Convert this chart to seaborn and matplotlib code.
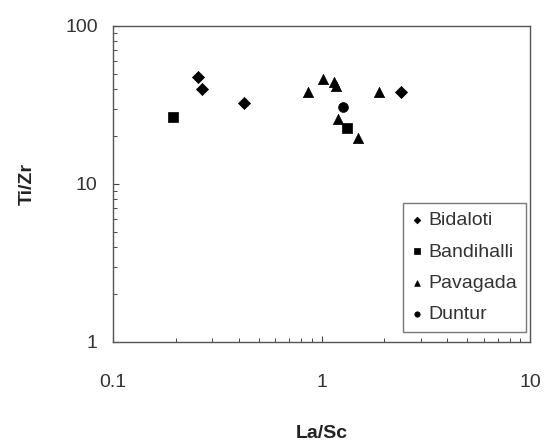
import numpy as np
import pandas as pd
import matplotlib
matplotlib.use("Agg")
import matplotlib.pyplot as plt
import seaborn as sns
from matplotlib.ticker import LogLocator, FixedLocator, FixedFormatter, NullFormatter

sns.set_style("white")
plt.rcParams['font.family'] = ['Liberation Sans', 'DejaVu Sans']

groups = ["Bidaloti", "Bandihalli", "Pavagada", "Duntur"]
bidaloti_x = [0.255, 0.266, 0.426, 2.40]
bidaloti_y = [47.3, 39.9, 32.4, 38.4]
bandihalli_x = [0.193, 1.32]
bandihalli_y = [26.7, 22.6]
pavagada_x = [0.861, 1.02, 1.148, 1.17, 1.196, 1.49, 1.88]
pavagada_y = [38.4, 46.2, 44.4, 41.7, 25.8, 19.6, 38.0]
duntur_x = [1.264]
duntur_y = [30.7]

x_ticks = [0.1, 1, 10]
x_ticklabels = ["0.1", "1", "10"]
y_ticks = [1, 10, 100]
y_ticklabels = ["1", "10", "100"]

rows = []
for g, xs, ys in [("Bidaloti", bidaloti_x, bidaloti_y),
                  ("Bandihalli", bandihalli_x, bandihalli_y),
                  ("Pavagada", pavagada_x, pavagada_y),
                  ("Duntur", duntur_x, duntur_y)]:
    for x, y in zip(xs, ys):
        rows.append({"La/Sc": x, "Ti/Zr": y, "Group": g})
df = pd.DataFrame(rows)

fig = plt.figure(figsize=(5.44, 4.42), dpi=100)
ax = fig.add_axes([113/544, 1-342/442, 417/544, 316/442])

markers = {"Bidaloti": "D", "Bandihalli": "s", "Pavagada": "^", "Duntur": "o"}
sizes_map = {"Bidaloti": 38, "Bandihalli": 55, "Pavagada": 55, "Duntur": 50}
for g in groups:
    sub = df[df["Group"] == g]
    sns.scatterplot(data=sub, x="La/Sc", y="Ti/Zr", marker=markers[g], color="black",
                    s=sizes_map[g], edgecolor="black", linewidth=0.5, ax=ax, label=g)

ax.set_xscale("log")
ax.set_yscale("log")
ax.set_xlim(0.1, 10)
ax.set_ylim(1, 100)

ax.xaxis.set_major_locator(FixedLocator(x_ticks))
ax.xaxis.set_major_formatter(FixedFormatter(x_ticklabels))
ax.yaxis.set_major_locator(FixedLocator(y_ticks))
ax.yaxis.set_major_formatter(FixedFormatter(y_ticklabels))
ax.xaxis.set_minor_locator(LogLocator(base=10, subs=np.arange(2, 10)))
ax.yaxis.set_minor_locator(LogLocator(base=10, subs=np.arange(2, 10)))
ax.xaxis.set_minor_formatter(NullFormatter())
ax.yaxis.set_minor_formatter(NullFormatter())

ax.tick_params(axis="both", which="both", direction="in", color="#444444",
               labelcolor="#333333", labelsize=14, bottom=True, left=True,
               top=False, right=False)
ax.tick_params(axis="both", which="major", length=4, width=0.8)
ax.tick_params(axis="both", which="minor", length=3, width=0.7)
ax.tick_params(axis="x", which="major", pad=23)
ax.tick_params(axis="y", which="major", pad=11)

for sp in ax.spines.values():
    sp.set_visible(True)
    sp.set_color("#555555")
    sp.set_linewidth(1.0)

ax.set_xlabel("La/Sc", fontsize=14, fontweight="bold", color="#222222")
ax.set_ylabel("Ti/Zr", fontsize=14, fontweight="bold", color="#222222")
ax.xaxis.set_label_coords(0.5, (342-433)/316)
ax.xaxis.label.set_va("center")
ax.yaxis.set_label_coords((27-113)/417, 0.5)
ax.yaxis.label.set_va("center")

leg = ax.legend(loc="upper left", bbox_to_anchor=((403-113)/417, (342-203)/316),
                frameon=True, fancybox=False, fontsize=14, markerscale=0.55,
                handletextpad=0.29, handlelength=0.55, labelspacing=0.7,
                borderpad=0.45, borderaxespad=0)
leg.get_frame().set_edgecolor("#555555")
leg.get_frame().set_linewidth(1.0)
for t in leg.get_texts():
    t.set_color("#333333")

fig.savefig("out.png", dpi=100, facecolor="white")
